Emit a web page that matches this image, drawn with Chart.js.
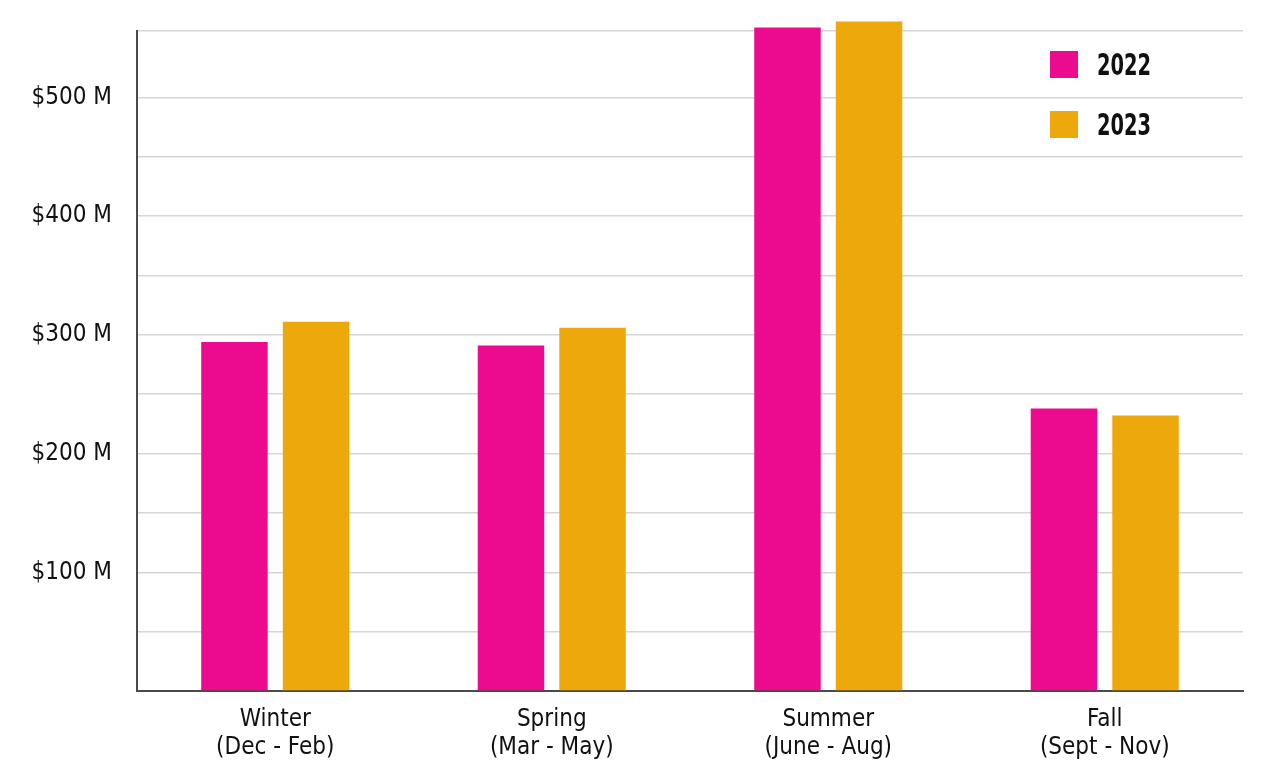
<!DOCTYPE html>
<html>
<head>
<meta charset="utf-8">
<script src="https://cdn.jsdelivr.net/npm/chart.js@4"></script>
<style>
  html, body { margin: 0; padding: 0; background: #fff; }
  #wrap { position: relative; width: 1280px; height: 783px; }
  #legend { position: absolute; left: 1050px; top: 51px; font-family: 'Liberation Sans Narrow', 'DejaVu Sans Condensed', sans-serif; }
  .item { display: flex; align-items: center; height: 27px; margin-bottom: 33px; }
  .box { width: 28px; height: 27px; margin-right: 19px; }
  .lbl { font-size: 30px; font-weight: bold; color: #111; display: inline-block; transform: scaleX(0.72); transform-origin: left center; }
</style>
</head>
<body>
<div id="wrap">
  <canvas id="seasonChart" width="1280" height="783"></canvas>
  <div id="legend"></div>
</div>
<script>
// seasons and totals (in $M)
var seasons = [['Winter', '(Dec - Feb)'], ['Spring', '(Mar - May)'], ['Summer', '(June - Aug)'], ['Fall', '(Sept - Nov)']];
var years = ['2022', '2023'];
var values2022 = [294, 291, 559, 238];
var values2023 = [311, 306, 564, 232];
var tickValues = [100, 200, 300, 400, 500];
var tickLabels = ['$100 M', '$200 M', '$300 M', '$400 M', '$500 M'];
var gridValues = [0, 50, 100, 150, 200, 250, 300, 350, 400, 450, 500];
var yMax = 556;

var colors = ['#ec0a8e', '#eda80b'];
var FONT = "'Liberation Sans Narrow', 'DejaVu Sans Condensed', sans-serif";

var ctx = document.getElementById('seasonChart');
var chart = new Chart(ctx.getContext('2d'), {
  type: 'bar',
  data: {
    labels: seasons,
    datasets: [
      { label: years[0], data: values2022, backgroundColor: colors[0], clip: false },
      { label: years[1], data: values2023, backgroundColor: colors[1], clip: false }
    ]
  },
  options: {
    responsive: false,
    animation: false,
    categoryPercentage: 0.59,
    barPercentage: 0.815,
    layout: { padding: { top: 31, right: 37, left: 0, bottom: 0 } },
    plugins: { legend: { display: false }, tooltip: { enabled: false } },
    scales: {
      x: {
        grid: { display: false, drawTicks: false },
        border: { display: true, color: '#4a4a4a', width: 2 },
        ticks: { color: '#111', padding: 15, font: { family: FONT, size: 24, lineHeight: 1.15 }, maxRotation: 0 },
        afterFit: function(axis) { axis.height = 92; }
      },
      y: {
        min: 0,
        max: yMax,
        grid: { color: '#d6d6d6', lineWidth: 1.5, drawTicks: false },
        border: { display: true, color: '#4a4a4a', width: 2 },
        afterBuildTicks: function(axis) {
          axis.ticks = gridValues.concat([yMax]).map(function(v) { return { value: v }; });
        },
        ticks: {
          color: '#111',
          padding: 25,
          font: { family: FONT, size: 24 },
          callback: function(v) {
            var i = tickValues.indexOf(v);
            return i >= 0 ? tickLabels[i] : '';
          }
        },
        afterFit: function(axis) {
          axis.width = 137;
          axis.paddingTop = 0;
          axis.paddingBottom = 0;
        }
      }
    }
  }
});

// legend, stacked vertically top right
var legend = document.getElementById('legend');
years.forEach(function(y, i) {
  var item = document.createElement('div');
  item.className = 'item';
  item.innerHTML = '<div class="box" style="background:' + colors[i] + '"></div><span class="lbl">' + y + '</span>';
  legend.appendChild(item);
});
</script>
</body>
</html>
